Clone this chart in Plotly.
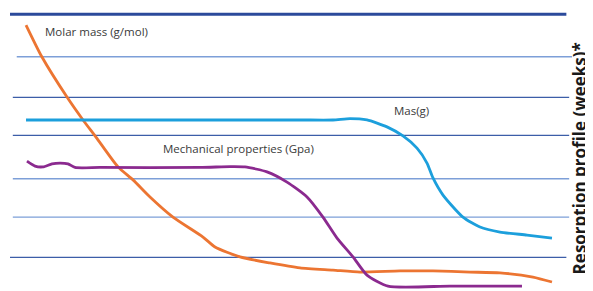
import plotly.graph_objects as go

# ---- data (arbitrary units: x = time, y = relative value) ----
molar_x = [2.85, 5.69, 10.14, 12.99, 15.30, 19.22, 21.89, 24.91, 29.00, 34.34, 36.48, 40.93,
           46.26, 51.60, 57.47, 62.28, 69.40, 75.27, 81.85, 87.19, 93.06, 96.44]
molar_y = [96.0, 84.4, 69.9, 61.6, 55.4, 44.6, 39.9, 33.7, 26.4, 19.2, 15.6, 12.0,
           9.8, 8.0, 7.2, 6.5, 6.9, 6.9, 6.5, 6.2, 4.7, 2.9]

mass_x = [2.85, 24.91, 51.60, 57.47, 60.50, 63.52, 67.08, 69.93, 72.42, 74.20, 75.27, 77.05,
          80.60, 83.63, 87.19, 91.99, 96.44]
mass_y = [61.6, 61.6, 61.6, 61.6, 62.1, 61.6, 59.1, 55.8, 51.4, 46.0, 40.6, 34.4,
          26.4, 22.8, 21.0, 19.9, 18.8]

mech_x = [3.02, 4.45, 5.87, 7.47, 8.90, 10.32, 11.57, 16.01, 33.81, 39.15, 41.81, 45.73,
          49.29, 52.85, 55.69, 58.19, 61.03, 63.52, 67.26, 78.29, 91.10]
mech_y = [46.7, 44.9, 44.6, 45.7, 46.0, 45.7, 44.4, 44.4, 44.4, 44.7, 44.6, 42.8,
          39.1, 33.7, 26.4, 18.8, 12.0, 5.4, 1.4, 1.4, 1.4]

grid_y = [99.9, 84.5, 69.8, 56.0, 40.3, 26.4, 11.8]

series_names = ["Molar mass (g/mol)", "Mas(g)", "Mechanical properties (Gpa)"]
label_x = [5.87, 67.97, 26.87]
label_y = [93.5, 65.2, 51.4]
axis_title = "Resorption profile (weeks)*"

# ---- styles ----
colors = ["#ec7532", "#1c9fdc", "#8b2a8f"]
grid_colors = ["#2b4a9b", "#7d9fd8", "#3c5ea8", "#3c5ea8", "#7d9fd8", "#7d9fd8", "#3c5ea8"]
grid_widths = [3, 1.3, 1.3, 1.3, 1.3, 1.3, 1.3]
grid_x0 = [0.0, 1.2, 0.5, 0.5, 0.5, 0.5, 0.0]
grid_x1 = [99.0, 100.0, 99.5, 99.5, 99.5, 99.5, 99.0]

fig = go.Figure()

for gy, gc, gw, x0, x1 in zip(grid_y, grid_colors, grid_widths, grid_x0, grid_x1):
    fig.add_shape(type="line", xref="x", yref="y", x0=x0, x1=x1, y0=gy, y1=gy,
                  line=dict(color=gc, width=gw), layer="below")

for xs, ys, c, n in zip([molar_x, mass_x, mech_x], [molar_y, mass_y, mech_y], colors, series_names):
    fig.add_trace(go.Scatter(x=xs, y=ys, mode="lines", name=n,
                             line=dict(color=c, width=2.8, shape="spline", smoothing=0.6),
                             hoverinfo="skip"))

for t, lx, ly in zip(series_names, label_x, label_y):
    fig.add_annotation(x=lx, y=ly, xref="x", yref="y", text=t, showarrow=False,
                       xanchor="left", yanchor="middle",
                       font=dict(family="Open Sans", size=11.5, color="#3a3a3a"))

fig.add_annotation(x=1, y=47.5, xref="paper", yref="y", text=axis_title, showarrow=False,
                   textangle=-90, xanchor="right", yanchor="middle", xshift=0,
                   font=dict(family="Open Sans", size=17, color="#1a1a1a", weight="bold"))

# the page body has an 8px margin, so the figure is sized to the visible area
fig.update_layout(
    width=585, height=283,
    margin=dict(l=0, r=0, t=4, b=1),
    paper_bgcolor="white", plot_bgcolor="white",
    showlegend=False,
    xaxis=dict(range=[-0.356, 103.74], visible=False, fixedrange=True),
    yaxis=dict(range=[0, 100.72], visible=False, fixedrange=True),
)

fig.write_html("out.html")
